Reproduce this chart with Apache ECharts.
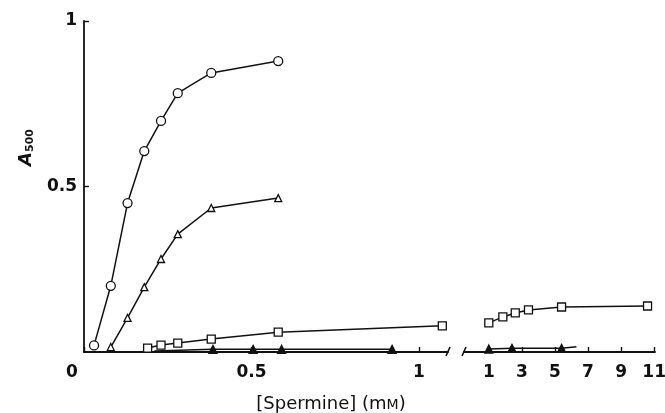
<!DOCTYPE html>
<html>
<head>
<meta charset="utf-8">
<script src="https://cdn.jsdelivr.net/npm/echarts@6/dist/echarts.min.js"></script>
<style>
  html, body { margin: 0; background: #fff; }
  #chart { width: 665px; height: 413px; }
</style>
</head>
<body>
<div id="chart"></div>
<script>
// low range (0 - 1.1 mM)
const circleX = [0.03, 0.08, 0.13, 0.18, 0.23, 0.28, 0.38, 0.58]
const circleY = [0.02, 0.2, 0.45, 0.607, 0.698, 0.782, 0.843, 0.879]
const triX = [0.08, 0.13, 0.18, 0.23, 0.28, 0.38, 0.58]
const triY = [0.015, 0.103, 0.196, 0.281, 0.356, 0.435, 0.465]
const sqX = [0.19, 0.23, 0.28, 0.38, 0.58, 1.07]
const sqY = [0.012, 0.021, 0.027, 0.039, 0.06, 0.079]
// filled triangles: first point is where the line starts (no marker)
const ftriX = [0.21, 0.385, 0.505, 0.59, 0.92]
const ftriY = [0.003, 0.008, 0.008, 0.008, 0.008]

// high range (1 - 11 mM)
const sqHiX = [1.0, 1.85, 2.6, 3.4, 5.4, 10.6]
const sqHiY = [0.088, 0.106, 0.118, 0.127, 0.136, 0.139]
// filled triangles: last point is where the line ends (no marker)
const ftriHiX = [1.0, 2.4, 5.4, 6.3]
const ftriHiY = [0.009, 0.011, 0.011, 0.016]

const xTicksLow = [0, 0.5, 1]
const xTicksHigh = [1, 3, 5, 7, 9, 11]
const yTicks = [0.5, 1]

const FONT = 'DejaVu Sans, Verdana, sans-serif'
const BLACK = '#111'

function pairs(xs, ys) {
  return xs.map((x, i) => [x, ys[i]])
}

const chart = echarts.init(document.getElementById('chart'))

// grid geometry (px)
const g1 = {left: 84, top: 21, width: 364, height: 331, outerBoundsMode: 'none'}
const g2 = {left: 464, top: 21, width: 191, height: 331, outerBoundsMode: 'none'}

const tickLabel = {
  fontFamily: FONT,
  fontWeight: 'bold',
  fontSize: 17,
  color: BLACK
}

function lineSeries(name, xi, data, symbol, size, filled) {
  return {
    name: name,
    type: 'line',
    xAxisIndex: xi,
    yAxisIndex: xi,
    data: data,
    symbol: symbol,
    symbolSize: size,
    showAllSymbol: true,
    animation: false,
    lineStyle: {color: BLACK, width: 1.5},
    itemStyle: {
      color: filled ? BLACK : '#fff',
      borderColor: BLACK,
      borderWidth: 1.3
    }
  }
}

const ftriData = pairs(ftriX, ftriY).map((p, i) => i === 0 ? {value: p, symbol: 'none'} : p)
const ftriHiData = pairs(ftriHiX, ftriHiY).map((p, i) => i === ftriHiX.length - 1 ? {value: p, symbol: 'none'} : p)

// break marks on the x axis
const y0 = g1.top + g1.height
const slash = (x) => ({
  type: 'line',
  shape: {x1: x - 2, y1: y0 + 4, x2: x + 2, y2: y0 - 5},
  style: {stroke: BLACK, lineWidth: 1.6}
})

chart.setOption({
  backgroundColor: '#fff',
  grid: [g1, g2],
  xAxis: [{
    type: 'value',
    gridIndex: 0,
    min: 0,
    max: 1.087,
    splitLine: {show: false},
    axisLine: {lineStyle: {color: BLACK, width: 1.8}},
    axisTick: {inside: true, length: 5, customValues: xTicksLow, lineStyle: {color: BLACK, width: 1.4}},
    axisLabel: Object.assign({
      margin: 12,
      customValues: xTicksLow,
      formatter: (v) => v === 0 ? '{o|0}' : String(v),
      rich: {o: Object.assign({padding: [0, 24, 0, 0]}, tickLabel)}
    }, tickLabel)
  }, {
    type: 'value',
    gridIndex: 1,
    min: -0.5,
    max: 11.05,
    splitLine: {show: false},
    axisLine: {lineStyle: {color: BLACK, width: 1.8}},
    axisTick: {inside: true, length: 5, customValues: xTicksHigh, lineStyle: {color: BLACK, width: 1.4}},
    axisLabel: Object.assign({margin: 12, customValues: xTicksHigh}, tickLabel)
  }],
  yAxis: [{
    type: 'value',
    gridIndex: 0,
    min: 0,
    max: 1,
    splitLine: {show: false},
    axisLine: {show: true, lineStyle: {color: BLACK, width: 1.8}},
    axisTick: {show: true, inside: true, length: 5, customValues: yTicks, lineStyle: {color: BLACK, width: 1.4}},
    axisLabel: Object.assign({margin: 7, customValues: yTicks}, tickLabel),
    name: '{a|A}{s|500}',
    nameLocation: 'middle',
    nameRotate: 90,
    nameGap: 48,
    nameTextStyle: {
      padding: [0, 0, 0, 78],
      rich: {
        a: {fontFamily: FONT, fontWeight: 'bold', fontStyle: 'italic', fontSize: 18, color: BLACK},
        s: {fontFamily: FONT, fontWeight: 'bold', fontSize: 11, color: BLACK, padding: [8, 0, 0, 0]}
      }
    }
  }, {
    type: 'value',
    gridIndex: 1,
    min: 0,
    max: 1,
    show: false
  }],
  graphic: [
    slash(g1.left + g1.width),
    slash(g2.left),
    {
      type: 'text',
      x: 331,
      y: 404,
      style: {
        text: '[Spermine] (m{sc|M})',
        textAlign: 'center',
        textVerticalAlign: 'middle',
        fontFamily: FONT,
        fontSize: 18,
        fill: BLACK,
        rich: {
          sc: {fontFamily: FONT, fontSize: 14, fill: BLACK, padding: [3, 0, 0, 0]}
        }
      }
    }
  ],
  series: [
    lineSeries('circles', 0, pairs(circleX, circleY), 'circle', 9, false),
    lineSeries('triangles', 0, pairs(triX, triY), 'triangle', 7, false),
    lineSeries('squares', 0, pairs(sqX, sqY), 'rect', 8, false),
    lineSeries('filled triangles', 0, ftriData, 'triangle', 8, true),
    lineSeries('squares high', 1, pairs(sqHiX, sqHiY), 'rect', 8, false),
    lineSeries('filled triangles high', 1, ftriHiData, 'triangle', 8, true)
  ]
})
</script>
</body>
</html>
